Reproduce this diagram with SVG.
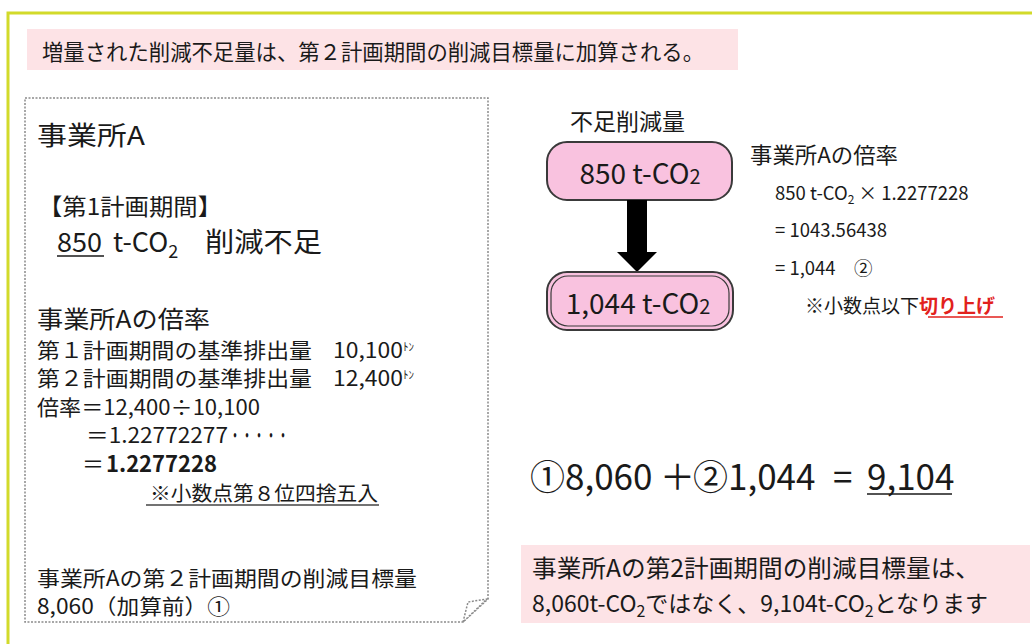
<svg xmlns="http://www.w3.org/2000/svg" width="1032" height="644" viewBox="0 0 1032 644">
<style>
text{font-family:"Noto Sans CJK JP","Noto Sans",sans-serif;fill:#1a1a1a}
.t22{font-size:21px}
.node{fill:#f9c2df;stroke:#3a3a3a;stroke-width:2}
.pink{fill:#fde3e6}
.ul{stroke:#1a1a1a;stroke-width:1.6}
</style>
<rect width="1032" height="644" fill="#fff"/>
<path d="M8,644 V13 H1032" fill="none" stroke="#d2da2a" stroke-width="3"/>
<g id="title">
<rect class="pink" x="27" y="29" width="711" height="41"/>
<text x="42" y="60" font-size="21.5" textLength="662" lengthAdjust="spacingAndGlyphs">増量された削減不足量は、第２計画期間の削減目標量に加算される。</text>
</g>
<g id="office-a">
<path d="M25,98 H488 V599 L463,622 H25 Z" fill="#fff" stroke="#8a8a8a" stroke-width="1.5" stroke-dasharray="2 1.5"/>
<path d="M463,622 L468,602 L487,599 Z" fill="#fff" stroke="#8a8a8a" stroke-width="1.5" stroke-dasharray="2 1.5"/>
<text x="37" y="145" font-size="26" textLength="108" lengthAdjust="spacingAndGlyphs">事業所A</text>
<text x="38" y="215" font-size="23" textLength="184" lengthAdjust="spacingAndGlyphs">【第1計画期間】</text>
<text y="252" font-size="27"><tspan x="57">850</tspan><tspan x="113">t-CO</tspan><tspan font-size="18" dy="6">2</tspan><tspan x="205" dy="-6" textLength="117" lengthAdjust="spacingAndGlyphs">削減不足</tspan></text>
<line class="ul" x1="57" y1="256" x2="104" y2="256"/>
<text x="37" y="328" font-size="24" textLength="173" lengthAdjust="spacingAndGlyphs">事業所Aの倍率</text>
<text x="37" y="358" class="t22"><tspan textLength="275" lengthAdjust="spacingAndGlyphs">第１計画期間の基準排出量</tspan><tspan x="333" textLength="70" lengthAdjust="spacingAndGlyphs">10,100</tspan><tspan font-size="11" dy="-7">ﾄﾝ</tspan></text>
<text x="37" y="386" class="t22"><tspan textLength="275" lengthAdjust="spacingAndGlyphs">第２計画期間の基準排出量</tspan><tspan x="333" textLength="70" lengthAdjust="spacingAndGlyphs">12,400</tspan><tspan font-size="11" dy="-7">ﾄﾝ</tspan></text>
<text x="37" y="415" font-size="21" textLength="223" lengthAdjust="spacingAndGlyphs">倍率＝12,400÷10,100</text>
<text y="443" font-size="21"><tspan x="86" textLength="142" lengthAdjust="spacingAndGlyphs">＝1.22772277</tspan><tspan x="229" textLength="60" lengthAdjust="spacingAndGlyphs">・・・・・</tspan></text>
<text x="82" y="472" font-size="22"><tspan>＝</tspan><tspan font-weight="bold" x="106">1.2277228</tspan></text>
<text x="150" y="501" font-size="20" textLength="228" lengthAdjust="spacingAndGlyphs">※小数点第８位四捨五入</text>
<line x1="146" y1="505" x2="379" y2="505" stroke="#444" stroke-width="1.3"/>
<text x="37" y="586" class="t22" textLength="380" lengthAdjust="spacingAndGlyphs">事業所Aの第２計画期間の削減目標量</text>
<text x="37" y="614" class="t22" textLength="193" lengthAdjust="spacingAndGlyphs">8,060（加算前）①</text>
</g>
<g id="label-shortfall">
<text x="570" y="130" font-size="23" textLength="115" lengthAdjust="spacingAndGlyphs">不足削減量</text>
</g>
<g id="node-850">
<rect class="node" x="547" y="142" width="185" height="58" rx="20"/>
<text x="640" y="184" font-size="28" text-anchor="middle">850 t-CO<tspan font-size="20">2</tspan></text>
</g>
<g id="connectors">
<path d="M627,200 H647 V252 H657 L637,272 L617,252 H627 Z" fill="#000"/>
</g>
<g id="node-1044">
<rect class="node" x="547" y="272" width="186" height="58" rx="20"/>
<rect x="551" y="276" width="178" height="50" rx="17" fill="none" stroke="#3a3a3a" stroke-width="1.2"/>
<text x="638" y="314" font-size="28" text-anchor="middle">1,044 t-CO<tspan font-size="20">2</tspan></text>
</g>
<g id="calc">
<text x="750" y="163" font-size="22" textLength="148" lengthAdjust="spacingAndGlyphs">事業所Aの倍率</text>
<text x="775" y="200" font-size="18.5">850 t-CO<tspan font-size="12" dy="4">2</tspan><tspan dy="-4"> × 1.2277228</tspan></text>
<text x="775" y="237" font-size="18.5">= 1043.56438</text>
<text x="775" y="275" font-size="18.5">= 1,044　②</text>
<text x="805" y="313" font-size="19">※小数点以下<tspan fill="#e2211c" font-weight="bold">切り上げ</tspan></text>
<line x1="928" y1="317" x2="1003" y2="317" stroke="#e2211c" stroke-width="1.6"/>
</g>
<g id="equation">
<text y="490" font-size="35"><tspan x="530">①8,060</tspan><tspan x="660">＋</tspan><tspan x="693">②1,044</tspan><tspan x="833">=</tspan><tspan x="867">9,104</tspan></text>
<line class="ul" x1="867" y1="494" x2="952" y2="494"/>
</g>
<g id="conclusion">
<rect class="pink" x="521" y="545" width="509" height="78"/>
<text x="532" y="577" font-size="24" textLength="448" lengthAdjust="spacingAndGlyphs">事業所Aの第2計画期間の削減目標量は、</text>
<text x="532" y="612" font-size="23">8,060t-CO<tspan font-size="16" dy="5">2</tspan><tspan dy="-5">ではなく、9,104t-CO</tspan><tspan font-size="16" dy="5">2</tspan><tspan dy="-5">となります</tspan></text>
</g>
</svg>
